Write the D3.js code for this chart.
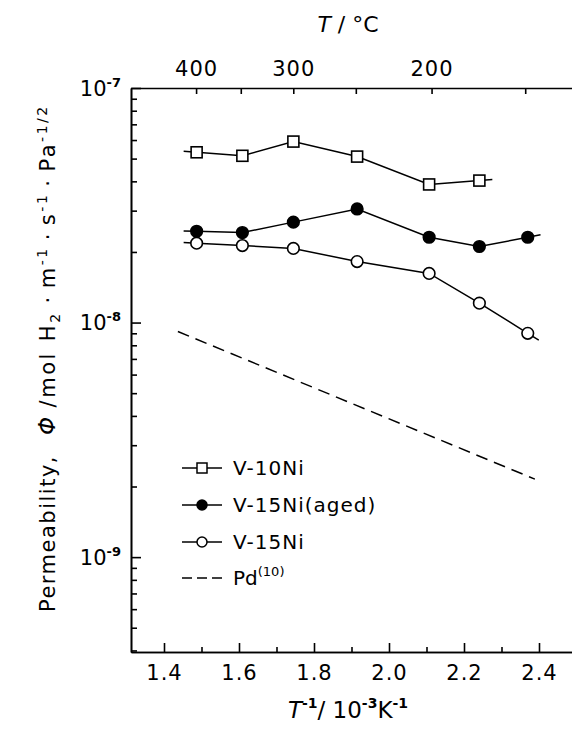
<!DOCTYPE html>
<html>
<head>
<meta charset="utf-8">
<script src="https://cdn.jsdelivr.net/npm/d3@7"></script>
<style>
  body { margin: 0; background: #fff; }
  text { font-family: 'DejaVu Sans', sans-serif; fill: #000; }
  .axis path, .axis line { stroke: #000; stroke-width: 1.6; }
</style>
</head>
<body>
<div id="chart"></div>
<script>
// reciprocal temperature, 10^-3 K^-1
var invT = [1.487, 1.609, 1.745, 1.915, 2.107, 2.241, 2.370]

// permeability, mol H2 m^-1 s^-1 Pa^-1/2
var v10Ni = [5.32e-8, 5.14e-8, 5.91e-8, 5.10e-8, 3.88e-8, 4.03e-8]
var v15NiAged = [2.45e-8, 2.42e-8, 2.68e-8, 3.05e-8, 2.31e-8, 2.11e-8, 2.31e-8]
var v15Ni = [2.18e-8, 2.13e-8, 2.07e-8, 1.82e-8, 1.62e-8, 1.21e-8, 9.0e-9]

// Pd literature line (dashed)
var pdX = [1.437, 2.389]
var pdY = [9.16e-9, 2.15e-9]

var xMajor = [1.4, 1.6, 1.8, 2.0, 2.2, 2.4]
var xMinor = [1.5, 1.7, 1.9, 2.1, 2.3]
var celsiusTicks = [400, 350, 300, 250, 200, 150]
var celsiusLabels = [400, 300, 200]
var decades = [1e-7, 1e-8, 1e-9]

var seriesNames = ['V-10Ni', 'V-15Ni(aged)', 'V-15Ni', 'Pd']

var margin = { top: 88, left: 131, right: 0, bottom: 77 }
var width = 572 - margin.left - margin.right
var height = 729 - margin.top - margin.bottom

var svg = d3
  .select('#chart')
  .append('svg')
  .attr('width', 572)
  .attr('height', 729)

var g = svg.append('g').attr('transform', `translate(${margin.left},${margin.top})`)

var xPositionScale = d3.scaleLinear().domain([1.312, 2.488]).range([0, width])
var yPositionScale = d3.scaleLog().domain([3.94e-10, 1e-7]).range([height, 0])

// minor ticks for the log axis: 2..9 of each decade, inside domain
var yMinor = []
;[1e-10, 1e-9, 1e-8].forEach(function(dec) {
  for (var k = 2; k <= 9; k++) {
    var v = dec * k
    if (v > yPositionScale.domain()[0] && v < 1e-7) yMinor.push(v)
  }
})

// ---- axes ----
g.append('g')
  .attr('class', 'axis')
  .attr('transform', `translate(0,${height})`)
  .call(d3.axisBottom(xPositionScale).tickValues(xMinor).tickSize(-5).tickSizeOuter(0).tickFormat(''))

var xAxis = g.append('g')
  .attr('class', 'axis')
  .attr('transform', `translate(0,${height})`)
  .call(d3.axisBottom(xPositionScale).tickValues(xMajor).tickSize(-9).tickSizeOuter(0).tickFormat(d3.format('.1f')))
xAxis.selectAll('.tick text')
  .attr('y', 13)
  .attr('dy', '0.71em')
  .attr('font-size', 21)
  .attr('letter-spacing', 1)

var topAxis = g.append('g')
  .attr('class', 'axis')
  .call(
    d3.axisTop(xPositionScale)
      .tickValues(celsiusTicks.map(c => 1000 / (c + 273.15)))
      .tickSize(-6)
      .tickSizeOuter(0)
      .tickFormat((d, i) => celsiusLabels.indexOf(celsiusTicks[i]) >= 0 ? celsiusTicks[i] : '')
  )
topAxis.selectAll('.tick text')
  .attr('y', -12)
  .attr('font-size', 21)
  .attr('letter-spacing', 1)

g.append('g')
  .attr('class', 'axis')
  .call(d3.axisLeft(yPositionScale).tickValues(yMinor).tickSize(-6).tickSizeOuter(0).tickFormat(''))

var yAxis = g.append('g')
  .attr('class', 'axis')
  .call(d3.axisLeft(yPositionScale).tickValues(decades).tickSize(-10).tickSizeOuter(0).tickFormat(''))
yAxis.selectAll('.tick').each(function(d) {
  var t = d3.select(this).append('text')
    .attr('x', -10)
    .attr('y', 7)
    .attr('text-anchor', 'end')
    .attr('font-size', 21)
  t.append('tspan').text('10')
  t.append('tspan').attr('dy', -9).attr('font-size', 13).attr('font-weight', 'bold').text('-' + Math.round(-Math.log10(d)))
})

// ---- data lines ----
var line = d3.line()
  .x(d => xPositionScale(d[0]))
  .y(d => yPositionScale(d[1]))

// extend the ends of a polyline a few pixels, like the hand-drawn tails
function withTails(pts, tail) {
  var p = pts.map(d => [xPositionScale(d[0]), yPositionScale(d[1])])
  function ext(a, b) {
    var dx = a[0] - b[0], dy = a[1] - b[1]
    var len = Math.sqrt(dx * dx + dy * dy)
    return [a[0] + dx / len * tail, a[1] + dy / len * tail]
  }
  return [ext(p[0], p[1])].concat(p, [ext(p[p.length - 1], p[p.length - 2])])
}

var series = [
  { name: seriesNames[0], values: v10Ni, marker: 'square', fill: '#fff' },
  { name: seriesNames[1], values: v15NiAged, marker: 'circle', fill: '#000' },
  { name: seriesNames[2], values: v15Ni, marker: 'circle', fill: '#fff' }
]

series.forEach(function(s) {
  var pts = s.values.map((v, i) => [invT[i], v])
  g.append('path')
    .attr('d', d3.line()(withTails(pts, 13)))
    .attr('fill', 'none')
    .attr('stroke', '#000')
    .attr('stroke-width', 1.5)

  if (s.marker === 'square') {
    g.selectAll(null)
      .data(pts)
      .enter()
      .append('rect')
      .attr('x', d => xPositionScale(d[0]) - 5.5)
      .attr('y', d => yPositionScale(d[1]) - 5.5)
      .attr('width', 11)
      .attr('height', 11)
      .attr('fill', s.fill)
      .attr('stroke', '#000')
      .attr('stroke-width', 1.6)
  } else {
    g.selectAll(null)
      .data(pts)
      .enter()
      .append('circle')
      .attr('cx', d => xPositionScale(d[0]))
      .attr('cy', d => yPositionScale(d[1]))
      .attr('r', 5.8)
      .attr('fill', s.fill)
      .attr('stroke', '#000')
      .attr('stroke-width', 1.6)
  }
})

g.append('path')
  .attr('d', line(pdX.map((x, i) => [x, pdY[i]])))
  .attr('fill', 'none')
  .attr('stroke', '#000')
  .attr('stroke-width', 1.5)
  .attr('stroke-dasharray', '12,7')

// ---- legend ----
var legendY = [468, 505, 542, 578]
var legend = svg.append('g')
series.forEach(function(s, i) {
  var y = legendY[i]
  legend.append('line').attr('x1', 182).attr('x2', 222).attr('y1', y).attr('y2', y)
    .attr('stroke', '#000').attr('stroke-width', 1.5)
  if (s.marker === 'square') {
    legend.append('rect').attr('x', 197).attr('y', y - 5).attr('width', 10).attr('height', 10)
      .attr('fill', s.fill).attr('stroke', '#000').attr('stroke-width', 1.5)
  } else {
    legend.append('circle').attr('cx', 202).attr('cy', y).attr('r', 5)
      .attr('fill', s.fill).attr('stroke', '#000').attr('stroke-width', 1.5)
  }
  legend.append('text').attr('x', 233).attr('y', y + 7).attr('font-size', 20)
    .attr('letter-spacing', 1).text(s.name)
})
legend.append('line').attr('x1', 182).attr('x2', 222).attr('y1', legendY[3]).attr('y2', legendY[3])
  .attr('stroke', '#000').attr('stroke-width', 1.5).attr('stroke-dasharray', '10,5')
var pdText = legend.append('text').attr('x', 233).attr('y', legendY[3] + 7).attr('font-size', 20)
pdText.append('tspan').text('Pd')
pdText.append('tspan').attr('dy', -9).attr('font-size', 13).text('(10)')

// ---- axis titles ----
var topTitle = svg.append('text').attr('x', 348).attr('y', 32).attr('text-anchor', 'middle').attr('font-size', 22)
topTitle.append('tspan').attr('font-style', 'italic').text('T')
topTitle.append('tspan').text(' / °C')

var xTitle = svg.append('text').attr('x', 348).attr('y', 718).attr('text-anchor', 'middle').attr('font-size', 23)
xTitle.append('tspan').attr('font-style', 'italic').text('T')
xTitle.append('tspan').attr('dy', -10).attr('font-size', 14).attr('font-weight', 'bold').text('-1')
xTitle.append('tspan').attr('dy', 10).text('/ 10')
xTitle.append('tspan').attr('dy', -10).attr('font-size', 14).attr('font-weight', 'bold').text('-3')
xTitle.append('tspan').attr('dy', 10).text('K')
xTitle.append('tspan').attr('dy', -10).attr('font-size', 14).attr('font-weight', 'bold').text('-1')

var yTitle = svg.append('text')
  .attr('transform', 'translate(55,612) rotate(-90)')
  .attr('font-size', 21)
  .attr('letter-spacing', 1.5)
yTitle.append('tspan').text('Permeability,')
yTitle.append('tspan').attr('dx', 20).attr('font-style', 'italic').attr('font-size', 23).text('Φ')
var units = yTitle.append('tspan').attr('letter-spacing', 2.5)
units.append('tspan').attr('dx', 8).text('/mol')
units.append('tspan').attr('dx', 10).text('H')
units.append('tspan').attr('dy', 5).attr('font-size', 14).text('2')
units.append('tspan').attr('dy', -5).attr('dx', 8).text('·')
units.append('tspan').attr('dx', 6).text('m')
units.append('tspan').attr('dy', -8).attr('font-size', 14).text('-1')
units.append('tspan').attr('dy', 8).attr('dx', 6).text('·')
units.append('tspan').attr('dx', 6).text('s')
units.append('tspan').attr('dy', -8).attr('font-size', 14).text('-1')
units.append('tspan').attr('dy', 8).attr('dx', 6).text('·')
units.append('tspan').attr('dx', 6).text('Pa')
units.append('tspan').attr('dy', -8).attr('font-size', 14).text('-1/2')
</script>
</body>
</html>
